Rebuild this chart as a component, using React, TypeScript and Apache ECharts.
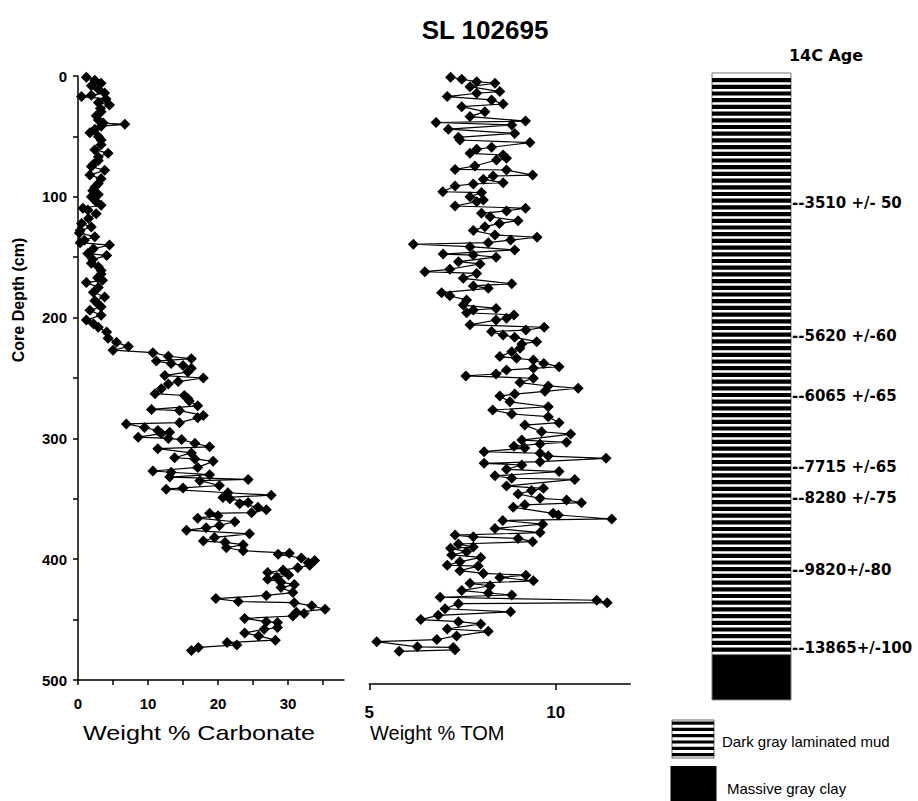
import React, { useEffect, useRef } from "react";
import * as echarts from "echarts";

// [depth (cm), weight % carbonate]
const carbonate: [number, number][] = [
  [1, 1.2], [3.5, 2.4], [6, 3.3], [8, 1.9], [11, 2.9], [14, 3.8], [16, 1.9], [17, 0.5],
  [19, 4.0], [22, 2.9], [24, 4.5], [27, 3.2], [29.6, 3.3], [33, 2.6], [36.5, 2.9], [39, 3.6],
  [40, 6.7], [41.5, 3.3], [44, 2.4], [47, 1.7], [50, 2.9], [53, 3.3], [57, 3.3], [61, 2.4],
  [64, 4.3], [67, 2.9], [70, 2.9], [73, 2.2], [75, 1.9], [78, 3.8], [82, 1.7], [85, 3.3],
  [89, 2.9], [92, 2.4], [95, 2.1], [98, 2.9], [100, 1.9], [104, 2.6], [107, 3.3], [109.5, 0.7],
  [111, 1.4], [114, 2.6], [118, 1.5], [122, 0.5], [125, 1.9], [128, 0.3], [130, 0.2], [133, 2.4],
  [136, 0.9], [138, 0.3], [140, 4.5], [143, 2.2], [147, 1.4], [148.5, 4.1], [152, 2.1], [155, 1.9],
  [158, 2.9], [161, 3.3], [164, 3.3], [167, 2.8], [169, 3.5], [171, 1.2], [175, 2.9], [179, 2.2],
  [183, 3.8], [186, 2.4], [189, 2.9], [191, 3.3], [194, 1.7], [198, 3.3], [202, 1.2], [205, 2.2],
  [208, 2.9], [212, 4.1], [217, 4.3], [220.5, 5.5], [224, 7.2], [227, 5.0], [229, 10.7], [232, 12.9],
  [234, 16.2], [236, 11.2], [238, 13.3], [239.6, 15.0], [242, 16.2], [245, 15.7], [248, 12.4], [250, 17.9],
  [253, 14.3], [255, 12.9], [259, 11.9], [263, 11.0], [264.5, 15.2], [267, 15.7], [269, 15.9], [273, 17.1],
  [276, 10.5], [277, 14.5], [281, 17.9], [283, 17.1], [287, 14.5], [288, 6.9], [291, 9.5], [293.5, 11.4],
  [295, 13.1], [296, 11.9], [299, 8.6], [300, 12.9], [301, 14.8], [304, 16.7], [307, 18.8], [308.5, 11.4],
  [312, 16.2], [316, 13.8], [317, 16.7], [319, 19.3], [324, 17.1], [327, 10.7], [328, 13.3], [330, 18.8],
  [332, 13.1], [334, 24.3], [335, 17.4], [339, 20.2], [341, 15.0], [342, 12.6], [345, 21.4], [347, 27.6],
  [349, 20.7], [350, 21.7], [353, 24.3], [354, 23.1], [357, 25.7], [359, 26.9], [361.5, 24.8], [362, 18.8],
  [364, 20.0], [366, 17.1], [369, 22.4], [372, 20.2], [374, 18.3], [376, 15.5], [379, 24.5], [382, 19.5],
  [385, 17.9], [386, 21.0], [388, 23.6], [390.5, 21.2], [393, 23.6], [395, 30.2], [396, 28.6], [399, 31.9],
  [401, 33.8], [403, 32.9], [405, 33.1], [407, 31.4], [409, 29.3], [411, 27.1], [413, 30.1], [415, 28.4],
  [416.5, 27.1], [419, 29.0], [421, 30.9], [423.5, 29.0], [427.6, 30.7], [430, 26.9], [432.6, 19.7], [435, 22.9],
  [436, 30.9], [438.6, 33.4], [441.4, 35.3], [444, 31.2], [445, 32.3], [447, 30.7], [449, 23.8], [451.7, 26.9],
  [452.5, 28.5], [456.6, 28.5], [458, 26.6], [461, 23.8], [463.5, 25.8], [467, 28.2], [469, 21.3], [471, 22.7],
  [473, 17.2], [475.5, 16.2],
];

// [depth (cm), weight % TOM]
const tom: [number, number][] = [
  [1, 7.18], [2.7, 7.48], [4.7, 7.88], [6, 8.37], [8.8, 7.7], [12.9, 8.5], [14.3, 7.88], [17, 7.09],
  [19.8, 8.28], [23.2, 8.59], [25.4, 7.48], [29.5, 8.1], [33.6, 7.7], [37.3, 9.19], [38.5, 6.79], [40.5, 8.82],
  [44, 7.12], [47.5, 8.9], [50.8, 7.39], [53, 7.43], [55.1, 9.31], [59, 8.28], [60.7, 7.88], [64, 7.7],
  [65.4, 8.59], [68.1, 8.68], [69.5, 8.41], [74.5, 7.83], [77.3, 7.3], [77.8, 8.68], [82, 9.38], [82.8, 8.32],
  [85.5, 8.06], [88.3, 8.59], [89.4, 7.79], [91, 7.3], [95.8, 6.97], [96.5, 8.01], [100, 7.7], [102.6, 8.06],
  [104, 7.88], [107.6, 7.3], [109.5, 9.19], [111.7, 8.68], [113.7, 8.01], [116.5, 8.24], [119.8, 8.99], [122, 8.49],
  [124.7, 8.1], [128, 7.79], [131.6, 8.37], [133.5, 9.5], [135.8, 8.79], [138, 8.19], [139.3, 6.18], [141.3, 7.7],
  [144, 8.9], [147.4, 6.98], [148.2, 7.79], [150, 8.4], [153.7, 7.39], [155.6, 7.97], [160, 7.16], [162, 6.49],
  [163.4, 7.88], [167.5, 7.52], [172, 8.82], [173.8, 7.79], [175.8, 8.19], [179.4, 6.94], [182, 7.16], [185.4, 7.61],
  [189.6, 7.52], [192.4, 8.4], [193.7, 7.79], [196, 7.61], [197.8, 8.88], [200.6, 8.68], [202, 8.4], [206, 7.7],
  [208, 9.69], [210.3, 9.2], [211.6, 8.28], [214.4, 8.59], [216.3, 8.9], [219.9, 9.49], [221.8, 9.09], [225.4, 9.04],
  [228.2, 8.82], [232.3, 8.5], [233.7, 8.95], [235.1, 9.4], [237.9, 9.68], [240.6, 10.09], [242, 9.4], [243.4, 8.68],
  [246.7, 8.4], [248.3, 7.59], [250.2, 9.4], [253.8, 9.04], [256.6, 9.8], [258.5, 10.6], [261, 9.71], [263.3, 8.9],
  [265, 8.5], [269.7, 8.77], [273.8, 9.8], [276.5, 8.31], [279.8, 8.82], [282, 9.8], [287, 10.09], [289, 9.17],
  [294.5, 9.62], [296.4, 10.4], [301.4, 9.09], [303.2, 10.29], [304.6, 9.58], [306.5, 8.88], [308, 9.17], [311, 8.08],
  [312.3, 9.58], [314.6, 9.8], [316.5, 11.35], [319.3, 9.58], [320.6, 8.08], [322, 9.09], [325.6, 8.68], [327.5, 10.09],
  [331, 8.37], [333, 8.82], [334, 10.51], [339.4, 8.68], [341.3, 9.67], [343.2, 9.35], [346, 8.99], [349.6, 9.58],
  [351, 10.29], [353.2, 10.69], [355, 9.17], [357, 8.86], [362, 9.93], [363.4, 10.07], [366.7, 11.5], [368, 8.58],
  [371, 9.65], [374.5, 8.37], [378, 9.58], [380, 7.3], [381.5, 7.79], [382.8, 8.99], [385.5, 9.38], [387.4, 7.39],
  [390, 7.79], [391, 7.18], [393.8, 7.61], [396.5, 7.21], [398.5, 7.99], [402.2, 7.43], [405, 7.09], [405.7, 7.92],
  [409.5, 7.43], [411.8, 8.06], [413.2, 9.2], [415.1, 8.5], [417.9, 9.4], [420, 7.7], [422, 8.24], [426, 7.48],
  [428, 8.19], [429.6, 8.82], [431.5, 6.9], [434, 11.1], [436, 11.38], [436.8, 7.39], [441, 7.03], [443.6, 8.79],
  [446.5, 6.85], [450, 6.38], [451.7, 7.39], [453.6, 7.99], [457.8, 7.09], [459.7, 8.19], [463.5, 7.34], [466.5, 6.81],
  [468.3, 5.2], [472.5, 6.29], [473, 7.25], [475, 7.3], [476.3, 5.8],
];

const depthTicks = [0, 50, 100, 150, 200, 250, 300, 350, 400, 450, 500];
const depthLabels = [0, 100, 200, 300, 400, 500];
const carbTicks = [0, 5, 10, 15, 20, 25, 30, 35];
const carbLabels = [0, 10, 20, 30];
const tomTicks = [5, 10];
const tomLabels = [5, 10];

// radiocarbon ages and their depths (cm)
const ageLabels = ["--3510 +/- 50", "--5620 +/-60", "--6065 +/-65", "--7715 +/-65", "--8280 +/-75", "--9820+/-80", "--13865+/-100"];
const ageDepths = [105, 215, 265, 324, 349, 409, 473.5];

// lithologic units: [top depth, bottom depth]
const unitNames = ["Dark gray laminated mud", "Massive gray clay"];
const unitTops = [-2.5, 479];
const unitBottoms = [479, 516.5];

const SANS = '"Liberation Sans", Arial, sans-serif';
const GOTHIC = '"DejaVu Sans", sans-serif';

function stripes(x: number, y0: number, w: number, y1: number, start: number, period: number, thick: number) {
  const out: any[] = [];
  for (let y = y0 + start; y + thick <= y1 - 0.5; y += period) {
    out.push({ type: "rect", shape: { x, y, width: w, height: thick }, style: { fill: "#000" } });
  }
  return out;
}

export default function App() {
  const ref = useRef<HTMLDivElement>(null);
  useEffect(() => {
    if (!ref.current) return;
    const chart = echarts.init(ref.current, undefined, { renderer: "svg" });
    const axisLabelBase = { color: "#000", fontWeight: "bold" as const, fontFamily: SANS };
    const lineAxis = { show: true, onZero: false, lineStyle: { color: "#000", width: 1.5 } };
    const option: any = {
      animation: false,
      backgroundColor: "#fff",
      grid: [
        { left: 78, top: 76, width: 266, height: 604 },
        { left: 369.3, top: 76, width: 261, height: 604 },
        { left: 712, top: 76, width: 79, height: 604 },
      ],
      xAxis: [
        {
          gridIndex: 0, type: "value", min: 0, max: 38, position: "bottom",
          axisLine: lineAxis,
          axisTick: { show: true, length: 5, customValues: carbTicks, lineStyle: { color: "#000", width: 1.5 } },
          axisLabel: { ...axisLabelBase, fontSize: 15, margin: 16, customValues: carbLabels },
          splitLine: { show: false },
        },
        {
          gridIndex: 1, type: "value", min: 5, max: 12, position: "bottom", offset: 4,
          axisLine: lineAxis,
          axisTick: { show: true, length: 6, customValues: tomTicks, lineStyle: { color: "#000", width: 1.5 } },
          axisLabel: { ...axisLabelBase, fontSize: 17, margin: 20, customValues: tomLabels },
          splitLine: { show: false },
        },
        { gridIndex: 2, type: "value", min: 0, max: 1, show: false },
      ],
      yAxis: [
        {
          gridIndex: 0, type: "value", min: 0, max: 500, inverse: true, position: "left",
          axisLine: lineAxis,
          axisTick: { show: true, length: 5, customValues: depthTicks, lineStyle: { color: "#000", width: 1.5 } },
          axisLabel: { ...axisLabelBase, fontSize: 15, margin: 11, customValues: depthLabels },
          splitLine: { show: false },
        },
        { gridIndex: 1, type: "value", min: 0, max: 500, inverse: true, show: false },
        { gridIndex: 2, type: "value", min: 0, max: 500, inverse: true, show: false },
      ],
      series: [
        {
          type: "line", xAxisIndex: 0, yAxisIndex: 0,
          data: carbonate.map(([d, v]) => [v, d]),
          symbol: "diamond", symbolSize: 11, showSymbol: true,
          itemStyle: { color: "#000" }, lineStyle: { color: "#000", width: 1.2 },
          clip: false,
        },
        {
          type: "line", xAxisIndex: 1, yAxisIndex: 1,
          data: tom.map(([d, v]) => [v, d]),
          symbol: "diamond", symbolSize: 11, showSymbol: true,
          itemStyle: { color: "#000" }, lineStyle: { color: "#000", width: 1.2 },
          clip: false,
        },
        {
          type: "custom", xAxisIndex: 2, yAxisIndex: 2, clip: false,
          data: unitNames.map((_, i) => [0, unitTops[i], unitBottoms[i], i]),
          renderItem: (params: any, api: any) => {
            const a = api.coord([0, api.value(1)]);
            const b = api.coord([1, api.value(2)]);
            const x = a[0], y0 = a[1], w = b[0] - a[0], y1 = b[1];
            if (api.value(3) === 1) {
              return { type: "rect", shape: { x, y: y0, width: w, height: y1 - y0 }, style: { fill: "#000", stroke: "#777", lineWidth: 1 } };
            }
            return {
              type: "group",
              children: [
                { type: "rect", shape: { x, y: y0, width: w, height: y1 - y0 }, style: { fill: "#fff", stroke: "#777", lineWidth: 1 } },
                ...stripes(x, y0, w, y1, 5, 6.7, 4.2),
              ],
            };
          },
        },
        {
          type: "custom", xAxisIndex: 2, yAxisIndex: 2, clip: false,
          data: ageLabels.map((_, i) => [1, ageDepths[i], i]),
          renderItem: (params: any, api: any) => {
            const p = api.coord([api.value(0), api.value(1)]);
            return {
              type: "text", x: p[0] + 1, y: p[1],
              style: {
                text: ageLabels[api.value(2)], fill: "#000", fontSize: 15, fontWeight: "bold",
                fontFamily: GOTHIC, verticalAlign: "middle", align: "left",
              },
            };
          },
        },
      ],
      graphic: [
        { type: "text", x: 485, y: 30, style: { text: "SL 102695", fill: "#000", fontSize: 26, fontWeight: "bold", fontFamily: SANS, align: "center", verticalAlign: "middle" } },
        { type: "text", x: 826, y: 55, style: { text: "14C Age", fill: "#000", fontSize: 16, fontWeight: "bold", fontFamily: GOTHIC, align: "center", verticalAlign: "middle" } },
        { type: "text", x: 18, y: 300, rotation: Math.PI / 2, style: { text: "Core Depth (cm)", fill: "#000", fontSize: 16, fontWeight: "bold", fontFamily: SANS, align: "center", verticalAlign: "middle" } },
        { type: "text", x: 83, y: 733, scaleX: 1.26, style: { text: "Weight % Carbonate", fill: "#000", fontSize: 20, fontFamily: SANS, align: "left", verticalAlign: "middle" } },
        { type: "text", x: 370, y: 733, style: { text: "Weight % TOM", fill: "#000", fontSize: 20, fontFamily: SANS, align: "left", verticalAlign: "middle" } },
        {
          type: "group",
          children: [
            { type: "rect", shape: { x: 672, y: 720, width: 42, height: 38 }, style: { fill: "#fff", stroke: "#666", lineWidth: 1 } },
            ...stripes(672, 720, 42, 758, 1.5, 6.3, 3.2),
          ],
        },
        { type: "text", x: 722, y: 741, style: { text: unitNames[0], fill: "#000", fontSize: 15, fontFamily: SANS, align: "left", verticalAlign: "middle" } },
        { type: "rect", shape: { x: 670.5, y: 766, width: 46, height: 36 }, style: { fill: "#000" } },
        { type: "text", x: 727, y: 788, style: { text: unitNames[1], fill: "#000", fontSize: 15, fontFamily: SANS, align: "left", verticalAlign: "middle" } },
      ],
    };
    chart.setOption(option);
    return () => chart.dispose();
  }, []);
  return <div ref={ref} style={{ position: "absolute", left: 0, top: 0, width: 918, height: 801 }} />;
}
